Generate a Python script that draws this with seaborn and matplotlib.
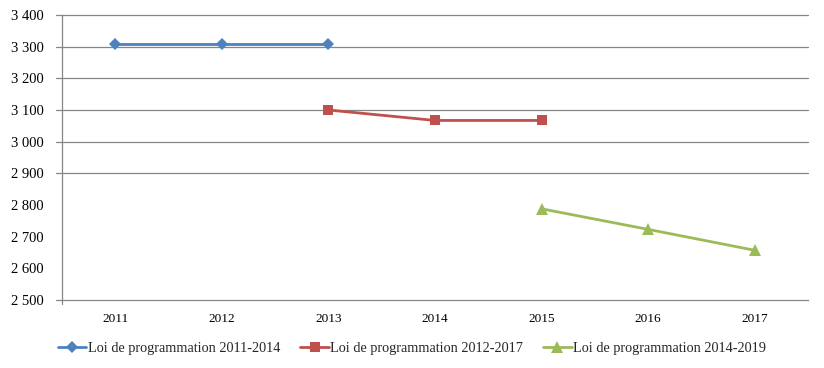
import matplotlib
matplotlib.use("Agg")
import matplotlib.pyplot as plt
import seaborn as sns
import pandas as pd

years = [2011, 2012, 2013, 2014, 2015, 2016, 2017]
s1_name = "Loi de programmation 2011-2014"
s1_years = [2011, 2012, 2013]
s1_vals = [3310, 3310, 3310]
s2_name = "Loi de programmation 2012-2017"
s2_years = [2013, 2014, 2015]
s2_vals = [3100, 3067, 3067]
s3_name = "Loi de programmation 2014-2019"
s3_years = [2015, 2016, 2017]
s3_vals = [2788, 2723, 2657]
y_ticks = [2500, 2600, 2700, 2800, 2900, 3000, 3100, 3200, 3300, 3400]
grid_vals = [2900, 3000, 3100, 3200, 3300, 3400]

df = pd.concat([
    pd.DataFrame({"year": s1_years, "value": s1_vals, "serie": s1_name}),
    pd.DataFrame({"year": s2_years, "value": s2_vals, "serie": s2_name}),
    pd.DataFrame({"year": s3_years, "value": s3_vals, "serie": s3_name}),
])

sns.set_theme(style="white")
plt.rcParams["font.family"] = ["Liberation Serif", "DejaVu Serif"]

fig = plt.figure(figsize=(8.24, 3.68), dpi=100)
ax = fig.add_axes([62/824, 68/368, 746/824, 285/368])

palette = {s1_name: "#4F81BD", s2_name: "#C0504D", s3_name: "#9BBB59"}
markers = {s1_name: "D", s2_name: "s", s3_name: "^"}
sizes = {s1_name: 6.5, s2_name: 7, s3_name: 8}
sns.lineplot(data=df, x="year", y="value", hue="serie", style="serie",
             palette=palette, markers=markers, dashes=False, linewidth=2.0,
             markersize=7, markeredgewidth=0, ax=ax, legend=True, zorder=3)
for line, name in zip(ax.lines, [s1_name, s2_name, s3_name]):
    line.set_markersize(sizes[name])

ax.set_xlim(years[0] - 0.5, years[-1] + 0.5)
ax.set_ylim(y_ticks[0], y_ticks[-1])
ax.set_xticks(years)
ax.set_xticklabels([str(y) for y in years])
ax.set_yticks(y_ticks)
ax.set_yticklabels([f"{v//1000} {v%1000:03d}" for v in y_ticks])
ax.tick_params(axis="both", length=0, labelsize=9.5, colors="black")
ax.tick_params(axis="y", pad=13, labelsize=10.5)
ax.tick_params(axis="x", pad=9)
ax.set_xlabel("")
ax.set_ylabel("")

gc = "#868686"
for v in grid_vals:
    ax.plot([-0.008, 1], [v, v], color=gc, linewidth=0.9,
            transform=ax.get_yaxis_transform(), clip_on=False, zorder=1)
ax.plot([0, 0], [0, -0.015], color=gc, linewidth=0.9,
        transform=ax.transAxes, clip_on=False)
ax.plot([-0.008, 0], [0, 0], color=gc, linewidth=0.9,
        transform=ax.transAxes, clip_on=False)

for side in ["top", "right"]:
    ax.spines[side].set_visible(False)
for side in ["left", "bottom"]:
    ax.spines[side].set_color(gc)
    ax.spines[side].set_linewidth(0.9)

handles, labels = ax.get_legend_handles_labels()
for h, name in zip(handles, labels):
    h.set_markersize(sizes[name])
ax.legend_.remove()
fig.legend(handles, labels, loc="center", bbox_to_anchor=(0.5, 1 - 348/368),
           ncol=3, frameon=False, fontsize=10.3, handlelength=2.0,
           handletextpad=0.1, columnspacing=1.4)

fig.savefig("out.png", dpi=100)
